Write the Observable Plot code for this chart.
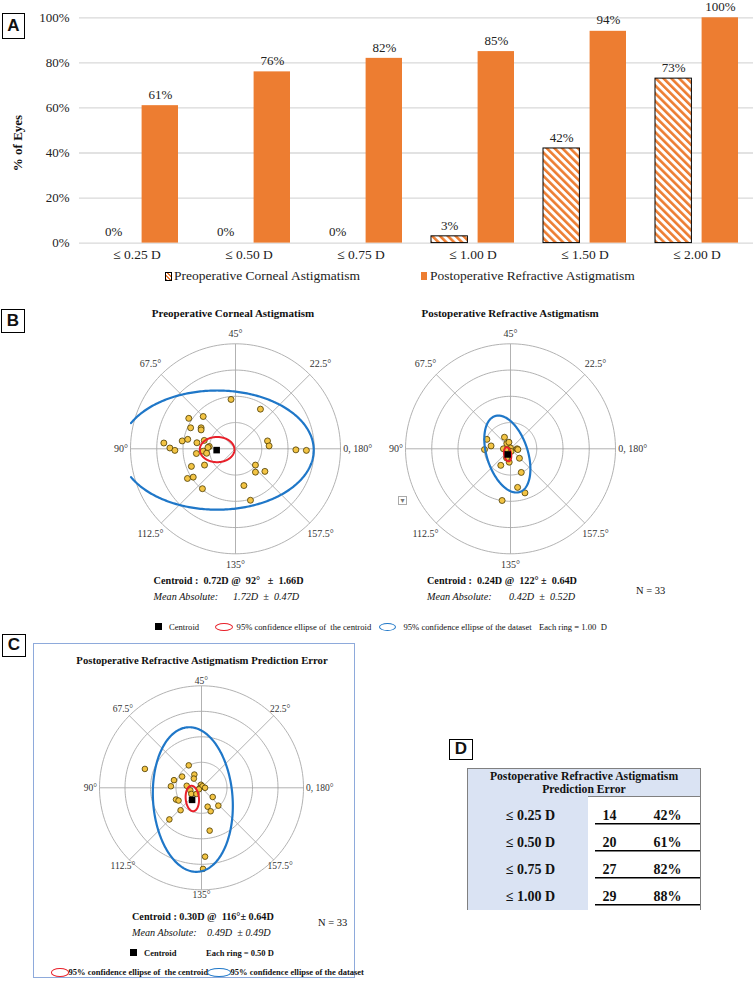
<!DOCTYPE html>
<html><head><meta charset="utf-8">
<script src="https://cdn.jsdelivr.net/npm/d3@7"></script>
<script src="https://cdn.jsdelivr.net/npm/@observablehq/plot@0.6"></script>
<style>
html,body{margin:0;padding:0;background:#fff;}
body{width:753px;height:990px;position:relative;overflow:hidden;font-family:"Liberation Serif","Times New Roman",serif;color:#111;}
.abs{position:absolute;white-space:pre;line-height:1;}
.box{position:absolute;border:1.5px solid #000;font:bold 17px "Liberation Sans",Arial,sans-serif;text-align:center;box-sizing:border-box;background:#fff;}
svg{position:absolute;overflow:visible;}
</style></head><body>
<script>
// ---------------- DATA ----------------
// Panel A
const categories = ["≤ 0.25 D", "≤ 0.50 D", "≤ 0.75 D", "≤ 1.00 D", "≤ 1.50 D", "≤ 2.00 D"];
const preopCornealPct = [0, 0, 0, 3, 42, 73];
const postopRefractivePct = [61, 76, 82, 85, 94, 100];
const yTicks = [0, 20, 40, 60, 80, 100];
const seriesNames = ["Preoperative Corneal Astigmatism", "Postoperative Refractive Astigmatism"];

// Panel B/C double-angle plots: vector components (D) of each eye, x = cos(2·axis), y = sin(2·axis)
const preopX = [-0.17, 0.95, -1.78, -1.23, -1.71, -1.31, -1.31, -2.73, -2.50, -2.31, -2.03, -1.82, -1.47, -1.19, -1.00, -1.23, -1.49, -1.10, -1.68, -1.18, -1.83, -1.61, -1.26, 1.22, 1.28, 2.30, 2.70, 0.76, 0.76, 1.12, 0.32, 0.57, -1.05];
const preopY = [1.88, 1.51, 1.16, 1.23, 0.80, 0.80, 0.72, 0.22, 0.03, -0.06, 0.30, 0.36, 0.23, 0.32, 0.09, -0.09, -0.18, -0.17, -0.67, -0.62, -1.13, -1.08, -1.52, 0.30, 0.11, -0.04, -0.06, -0.62, -0.89, -0.86, -1.40, -1.96, 0.05];
const postopX = [-0.90, -0.99, -0.74, -0.23, -0.14, -0.06, -0.27, 0.00, 0.25, 0.28, 0.34, -0.37, -0.05, 0.41, 0.27, 0.55, -0.32, -0.12, 0.02, -0.15];
const postopY = [0.36, -0.03, 0.11, 0.44, 0.20, 0.25, 0.00, 0.03, 0.00, -0.03, -0.36, -0.63, -0.51, -0.90, -1.47, -1.68, -1.97, -0.02, -0.10, -0.35];
const errorX = [-1.11, -0.25, -0.14, -0.15, -0.38, -0.54, -0.60, -0.29, -0.22, -0.20, -0.10, -0.01, -0.04, 0.02, 0.07, -0.50, -0.45, -0.41, -0.63, 0.22, 0.12, 0.18, 0.33, 0.16, 0.07, 0.03, -0.05];
const errorY = [0.37, 0.44, 0.26, 0.18, 0.22, 0.15, 0.03, 0.04, -0.05, -0.12, -0.12, 0.06, -0.01, 0.03, 0.00, -0.23, -0.25, -0.44, -0.62, -0.18, -0.37, -0.46, -0.35, -0.84, -1.35, -1.59, -0.03];

// summary statistics [preop, postop, prediction error]
const centroidMag = [0.72, 0.24, 0.30];
const centroidAxis = [92, 122, 116];
const centroidSD = [1.66, 0.64, 0.64];
const meanAbs = [1.72, 0.42, 0.49];
const meanAbsSD = [0.47, 0.52, 0.49];
const nEyes = 33;
// 95% ellipses: [centre x, centre y, semi-axis a, semi-axis b, rotation deg] in double-angle space (D)
const redEllipses = [[-0.70, -0.03, 0.66, 0.48, 0], [-0.11, -0.21, 0.27, 0.135, 100], [-0.18, -0.21, 0.25, 0.13, 95]];
const blueEllipses = [[-0.70, -0.05, 3.68, 2.27, 0], [-0.12, -0.20, 1.52, 0.78, 108], [-0.17, -0.23, 1.42, 0.78, 94]];
const ringSets = [[1, 2, 3, 4], [1, 2, 3, 4], [0.5, 1, 1.5, 2]];
const ringStepLabels = ["1.00", "1.00", "0.50"];
const spokeAxes = [0, 22.5, 45, 67.5];
const angleLabels = [
  {axis: 45, text: "45°"}, {axis: 67.5, text: "67.5°"}, {axis: 22.5, text: "22.5°"}, {axis: 90, text: "90°"},
  {axis: 0, text: "0, 180°"}, {axis: 112.5, text: "112.5°"}, {axis: 157.5, text: "157.5°"}, {axis: 135, text: "135°"}
];

// Panel D
const errorThresholds = ["≤ 0.25 D", "≤ 0.50 D", "≤ 0.75 D", "≤ 1.00 D"];
const errorCounts = [14, 20, 27, 29];
const errorPct = [42, 61, 82, 88];

// ---------------- HELPERS ----------------
const ORANGE = "#ed7d31";
const SERIF = "Liberation Serif";
function put(node, x, y) { node.style.left = x + "px"; node.style.top = y + "px"; document.body.appendChild(node); return node; }
function label(html, x, y, css = "", anchor = "start") {
  const d = document.createElement("div");
  d.className = "abs"; d.innerHTML = html; d.style.cssText += css;
  d.style.transform = anchor === "middle" ? "translate(-50%,-50%)" : anchor === "end" ? "translate(-100%,-50%)" : "translate(0,-50%)";
  return put(d, x, y);
}
function boxLetter(ch, x, y, w, h) {
  const d = document.createElement("div"); d.className = "box"; d.textContent = ch;
  d.style.width = w + "px"; d.style.height = h + "px"; d.style.lineHeight = (h - 3) + "px";
  return put(d, x, y);
}
function swatch(x, y, w, h, css) {
  const d = document.createElement("div"); d.style.position = "absolute"; d.style.boxSizing = "border-box";
  d.style.width = w + "px"; d.style.height = h + "px"; d.style.cssText += css; return put(d, x, y);
}
const rad = Math.PI / 180;
function ellipsePts([cx, cy, a, b, rot], clip) {
  const th = rot * rad;
  return d3.range(0, 361, 1).map(t => {
    const u = t * rad;
    let x = cx + a * Math.cos(u) * Math.cos(th) - b * Math.sin(u) * Math.sin(th);
    let y = cy + a * Math.cos(u) * Math.sin(th) + b * Math.sin(u) * Math.cos(th);
    if (clip && (Math.abs(x) > clip || Math.abs(y) > clip)) { x = NaN; y = NaN; }
    return {x, y};
  });
}

// ---------------- PANEL A ----------------
const hatchDefs = () => {
  const defs = d3.create("svg:defs");
  const p = defs.append("pattern").attr("id", "hatchA").attr("patternUnits", "userSpaceOnUse")
    .attr("width", 5.5).attr("height", 5.5).attr("patternTransform", "rotate(-45)");
  p.append("rect").attr("width", 5.5).attr("height", 5.5).attr("fill", "#fff");
  p.append("rect").attr("width", 2.6).attr("height", 5.5).attr("fill", ORANGE);
  return defs.node();
};
const txtA = {fontFamily: SERIF, fontSize: 13, fill: "#222"};
const chartA = Plot.plot({
  width: 753, height: 265,
  marginLeft: 79, marginRight: 0, marginTop: 17, marginBottom: 22.4,
  x: {domain: categories, range: [79, 753], paddingInner: 0.26, paddingOuter: 0.13, axis: null},
  y: {domain: [0, 100], range: [242.6, 17.3], axis: null},
  style: {background: "transparent"},
  marks: [
    hatchDefs,
    Plot.ruleY(yTicks, {stroke: "#d9d9d9", strokeWidth: 1.3}),
    Plot.barY(categories, {x: d => d, y: (d, i) => preopCornealPct[i], filter: (d, i) => preopCornealPct[i] > 0,
      fill: "url(#hatchA)", stroke: "#000", strokeWidth: 1, insetRight: 46.6}),
    Plot.barY(categories, {x: d => d, y: (d, i) => postopRefractivePct[i], fill: ORANGE, insetLeft: 46.6}),
    Plot.text(categories, {...txtA, x: d => d, y: (d, i) => preopCornealPct[i], text: (d, i) => preopCornealPct[i] + "%", dx: -23.3, dy: -11}),
    Plot.text(categories, {...txtA, x: d => d, y: (d, i) => postopRefractivePct[i], text: (d, i) => postopRefractivePct[i] + "%", dx: 23.3, dy: -11}),
    Plot.text(yTicks, {...txtA, y: d => d, frameAnchor: "left", textAnchor: "end", dx: -10, text: d => d + "%"}),
    Plot.text(categories, {...txtA, fontSize: 13.5, x: d => d, frameAnchor: "bottom", dy: 15.5, text: d => d})
  ]
});
put(chartA, 0, 0);
boxLetter("A", 2, 13, 23, 26);
label("% of Eyes", 17, 143, "font-weight:bold;font-size:13px;", "middle").style.transform = "translate(-50%,-50%) rotate(-90deg)";
swatch(165, 271.5, 7, 9, "border:1px solid #000;background:repeating-linear-gradient(45deg," + ORANGE + " 0 1.4px,#fff 1.4px 2.8px);");
label(seriesNames[0], 174, 276, "font-size:13.5px;color:#222;");
swatch(420.5, 272, 6, 8, "background:" + ORANGE + ";");
label(seriesNames[1], 430, 276, "font-size:13.5px;color:#222;");

// ---------------- POLAR PLOTS ----------------
function polarPlot(o) {
  const rings = ringSets[o.k];
  const R = rings[rings.length - 1];
  const k = o.pxPerD;
  const ringData = rings.flatMap(r => d3.range(0, 361, 2).map(t => ({r, x: r * Math.cos(t * rad), y: r * Math.sin(t * rad)})));
  const pts = o.xs.map((x, i) => ({x, y: o.ys[i]}));
  const cen = {x: centroidMag[o.k] * Math.cos(2 * centroidAxis[o.k] * rad), y: centroidMag[o.k] * Math.sin(2 * centroidAxis[o.k] * rad)};
  const mid = angleLabels.filter(l => l.axis !== 0 && l.axis !== 90);
  const rl = l => (l.axis === 45 || l.axis === 135) ? o.rVert : o.rDiag;
  const lt = {fontFamily: SERIF, fontSize: o.fs, fill: "#333"};
  return Plot.plot({
    width: o.w, height: o.h, margin: 0,
    x: {domain: [-o.cx / k, (o.w - o.cx) / k], range: [0, o.w], axis: null},
    y: {domain: [-(o.h - o.cy) / k, o.cy / k], range: [o.h, 0], axis: null},
    style: {background: "transparent"},
    marks: [
      Plot.line(ringData, {x: "x", y: "y", z: "r", stroke: "#a9a9a9", strokeWidth: 0.9}),
      Plot.link(spokeAxes, {x1: a => -R * Math.cos(2 * a * rad), y1: a => -R * Math.sin(2 * a * rad),
        x2: a => R * Math.cos(2 * a * rad), y2: a => R * Math.sin(2 * a * rad), stroke: "#a9a9a9", strokeWidth: 0.9}),
      Plot.text(mid, {...lt, x: l => rl(l) * Math.cos(2 * l.axis * rad), y: l => rl(l) * Math.sin(2 * l.axis * rad), text: "text"}),
      Plot.text(angleLabels.filter(l => l.axis === 90), {...lt, x: -o.rSide, y: 0, text: "text", textAnchor: "end"}),
      Plot.text(angleLabels.filter(l => l.axis === 0), {...lt, x: o.rSide, y: 0, text: "text", textAnchor: "start"}),
      Plot.dot(pts, {x: "x", y: "y", r: o.dotR, fill: "#f3c444", stroke: "#4a3a00", strokeWidth: 0.8}),
      Plot.line(ellipsePts(blueEllipses[o.k], o.clip), {x: "x", y: "y", stroke: "#1f77c8", strokeWidth: 2.2}),
      Plot.line(ellipsePts(redEllipses[o.k]), {x: "x", y: "y", stroke: "#e8202a", strokeWidth: 2}),
      Plot.dot([cen], {x: "x", y: "y", symbol: "square", r: 3.7, fill: "#000"})
    ]
  });
}

// ---------------- PANEL B ----------------
boxLetter("B", 1, 309, 24, 24);
label("Preoperative Corneal Astigmatism", 233, 313, "font-weight:bold;font-size:11px;", "middle");
label("Postoperative Refractive Astigmatism", 510, 313, "font-weight:bold;font-size:11px;", "middle");
put(polarPlot({k: 0, xs: preopX, ys: preopY, w: 250, h: 256, cx: 125, cy: 128.3, pxPerD: 26.25,
  rVert: 4.4, rDiag: 4.58, rSide: 4.1, dotR: 3, clip: 4, fs: 10}), 110, 320);
put(polarPlot({k: 1, xs: postopX, ys: postopY, w: 250, h: 256, cx: 125, cy: 128.3, pxPerD: 26.25,
  rVert: 4.4, rDiag: 4.58, rSide: 4.1, dotR: 3, fs: 10}), 385, 320);
// small dropdown marker
swatch(398, 496, 9, 9, "border:1px solid #aaa;background:#fff;");
label("▾", 402.5, 500.5, "font-size:8px;color:#777;font-family:'DejaVu Sans';", "middle");

const f2 = v => v.toFixed(2);
const statB = "font-weight:bold;font-size:10.2px;";
const statI = "font-style:italic;font-size:10.2px;";
label("Centroid :  " + f2(centroidMag[0]) + "D @  " + centroidAxis[0] + "°   ±  " + f2(centroidSD[0]) + "D", 153.6, 580.7, statB);
label("Mean Absolute:", 153.6, 596.7, statI);
label(f2(meanAbs[0]) + "D  ±  " + f2(meanAbsSD[0]) + "D", 233, 596.7, statI);
label("Centroid :  " + f2(centroidMag[1]) + "D @  " + centroidAxis[1] + "° ±  " + f2(centroidSD[1]) + "D", 427, 580.7, statB);
label("Mean Absolute:", 427, 596.7, statI);
label(f2(meanAbs[1]) + "D  ±  " + f2(meanAbsSD[1]) + "D", 509, 596.7, statI);
label("N = " + nEyes, 636, 590.7, "font-size:10.5px;");
// legend B
const legB = "font-size:8.6px;";
swatch(155, 622.5, 7, 7.5, "background:#000;");
label("Centroid", 169, 626.5, legB);
swatch(215, 622.5, 17.5, 8, "border:1.2px solid #e8202a;border-radius:50%;");
label("95% confidence ellipse of  the centroid", 236.6, 626.5, legB);
swatch(378.5, 622.5, 17.5, 8, "border:1.2px solid #1f77c8;border-radius:50%;");
label("95% confidence ellipse of the dataset", 403.5, 626.5, legB);
label("Each ring = " + ringStepLabels[0] + "  D", 539, 626.5, legB);

// ---------------- PANEL C ----------------
swatch(33, 643, 322, 335, "border:1px solid #8eaadb;");
boxLetter("C", 2, 634, 24, 23);
label("Postoperative Refractive Astigmatism Prediction Error", 202, 659.5, "font-weight:bold;font-size:10.7px;", "middle");
put(polarPlot({k: 2, xs: errorX, ys: errorY, w: 282, h: 240, cx: 141, cy: 117.3, pxPerD: 51,
  rVert: 2.1, rDiag: 2.18, rSide: 2.05, dotR: 2.8, fs: 9.5}), 60, 670);
label("Centroid : " + f2(centroidMag[2]) + "D @  " + centroidAxis[2] + "°± " + f2(centroidSD[2]) + "D", 132, 917, statB);
label("Mean Absolute:", 132, 932.7, statI);
label(f2(meanAbs[2]) + "D  ± " + f2(meanAbsSD[2]) + "D", 207, 932.7, statI);
label("N = " + nEyes, 318, 923, "font-size:10.5px;");
const legC = "font-weight:bold;font-size:8.5px;";
swatch(130, 949, 7, 7, "background:#000;");
label("Centroid", 144, 953, legC);
label("Each ring = " + ringStepLabels[2] + " D", 206, 953, legC);
swatch(51, 968, 17.5, 8.5, "border:1.6px solid #e8202a;border-radius:50%;");
label("95% confidence ellipse of  the centroid", 68.5, 972.3, legC);
swatch(207, 968, 23.5, 8.5, "border:1.6px solid #1f77c8;border-radius:50%;");
label("95% confidence ellipse of the dataset", 230.5, 972.3, legC);

// ---------------- PANEL D ----------------
boxLetter("D", 449, 739, 24, 21);
swatch(467, 768, 234, 29, "background:#dae3f3;border:1px solid #808080;");
label("Postoperative Refractive Astigmatism", 584, 776.5, "font-weight:bold;font-size:11.7px;", "middle");
label("Prediction Error", 584, 789.5, "font-weight:bold;font-size:11.7px;", "middle");
swatch(467, 796, 121, 114, "background:#dae3f3;border-left:1px solid #808080;");
swatch(700, 796, 1, 114, "background:#808080;");
const tD = {fontFamily: SERIF, fontSize: 14, fontWeight: "bold", fill: "#111"};
const tableD = Plot.plot({
  width: 234, height: 114, margin: 0,
  x: {domain: [0, 234], range: [0, 234], axis: null},
  y: {type: "band", domain: errorThresholds, range: [5.3, 115.3], paddingInner: 0, paddingOuter: 0, axis: null},
  style: {background: "transparent"},
  marks: [
    Plot.text(errorThresholds, {...tD, x: 63, y: d => d, text: d => d}),
    Plot.text(errorThresholds, {...tD, x: 142, y: d => d, text: (d, i) => String(errorCounts[i])}),
    Plot.text(errorThresholds, {...tD, x: 200, y: d => d, text: (d, i) => errorPct[i] + "%"}),
    Plot.ruleY(errorThresholds, {y: d => d, dy: 7.8, x1: 128, x2: 233, stroke: "#000", strokeWidth: 1.5})
  ]
});
put(tableD, 467, 796);
</script>
</body></html>
